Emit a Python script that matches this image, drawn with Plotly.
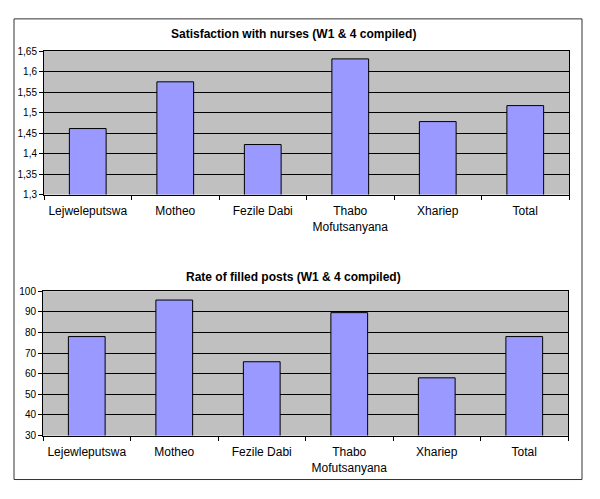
import plotly.graph_objects as go

# data
regions_top = ["Lejweleputswa", "Motheo", "Fezile Dabi", "Thabo<br>Mofutsanyana", "Xhariep", "Total"]
satisfaction = [1.461, 1.575, 1.422, 1.631, 1.478, 1.517]
sat_ticks = [1.3, 1.35, 1.4, 1.45, 1.5, 1.55, 1.6, 1.65]
sat_ticktext = ["1,3", "1,35", "1,4", "1,45", "1,5", "1,55", "1,6", "1,65"]

regions_bottom = ["Lejewleputswa", "Motheo", "Fezile Dabi", "Thabo<br>Mofutsanyana", "Xhariep", "Total"]
filled_posts = [78, 95.7, 65.8, 89.6, 58, 78]
posts_ticks = [30, 40, 50, 60, 70, 80, 90, 100]

W, H = 600, 499
OFF = 8  # page body margin shifts the figure by 8 px
FONT = "Liberation Sans, Arial, sans-serif"
BAR = "#9999ff"
BG = "#c0c0c0"


def px_x(x):
    return (x - OFF) / W


def px_y(y):
    return 1 - (y - OFF) / H


fig = go.Figure()

fig.add_trace(go.Bar(
    x=regions_top, y=satisfaction, xaxis="x", yaxis="y",
    marker=dict(color=BAR, line=dict(color="black", width=1)),
    showlegend=False,
))
fig.add_trace(go.Bar(
    x=regions_bottom, y=filled_posts, xaxis="x2", yaxis="y2",
    marker=dict(color=BAR, line=dict(color="black", width=1)),
    showlegend=False,
))

xcommon = dict(
    showline=True, linecolor="black", linewidth=1, mirror=True,
    ticks="outside", tickson="boundaries", ticklen=4, tickcolor="black",
    tickfont=dict(family=FONT, size=12, color="black"),
    tickangle=0, ticklabelstandoff=5,
    showgrid=False, fixedrange=True,
)
ycommon = dict(
    showline=True, linecolor="black", linewidth=1, mirror=True,
    ticks="outside", ticklen=4, tickcolor="black",
    tickfont=dict(family=FONT, size=10, color="black"),
    showgrid=True, gridcolor="black", gridwidth=1,
    zeroline=False, fixedrange=True,
)

fig.update_layout(
    width=W, height=H,
    margin=dict(l=0, r=0, t=0, b=0),
    paper_bgcolor="white", plot_bgcolor=BG,
    bargap=0.58,
    xaxis=dict(domain=[px_x(44), px_x(569)], anchor="y", **xcommon),
    yaxis=dict(domain=[px_y(193), px_y(46)], anchor="x", range=[1.3, 1.65],
               tickvals=sat_ticks, ticktext=sat_ticktext, **ycommon),
    xaxis2=dict(domain=[px_x(43), px_x(568)], anchor="y2", **xcommon),
    yaxis2=dict(domain=[px_y(440), px_y(292)], anchor="x2", range=[30, 100],
                tickvals=posts_ticks, **ycommon),
    annotations=[
        dict(text="<b>Satisfaction with nurses (W1 & 4 compiled)</b>",
             x=px_x(293), y=px_y(28), xref="paper", yref="paper",
             xanchor="center", yanchor="middle",
             showarrow=False, font=dict(family=FONT, size=12, color="black")),
        dict(text="<b>Rate of filled posts (W1 & 4 compiled)</b>",
             x=px_x(293), y=px_y(277), xref="paper", yref="paper",
             xanchor="center", yanchor="middle",
             showarrow=False, font=dict(family=FONT, size=12, color="black")),
    ],
    shapes=[
        dict(type="rect", xref="paper", yref="paper",
             x0=px_x(14), x1=px_x(582), y0=px_y(485), y1=px_y(13),
             line=dict(color="#333333", width=1)),
    ],
)

fig.write_html("out.html")
